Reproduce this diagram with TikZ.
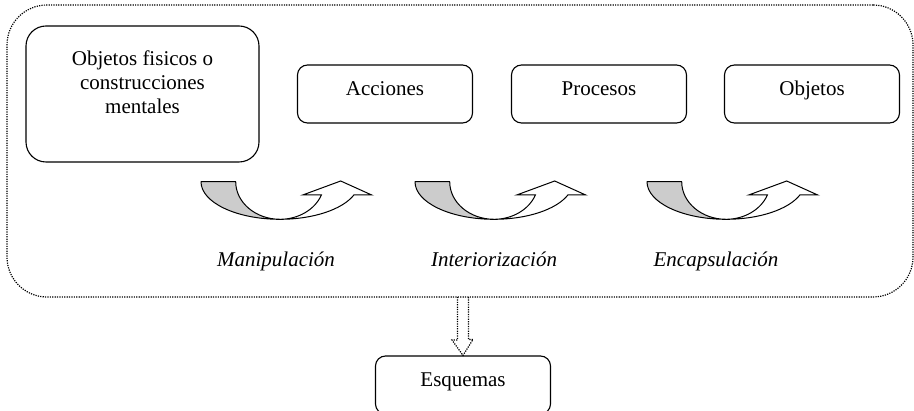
\documentclass[tikz,border=0pt]{standalone}
\usepackage{fontspec}
\setmainfont{Liberation Serif}
\usetikzlibrary{calc}
\definecolor{shade}{RGB}{204,204,204}
\begin{document}
\begin{tikzpicture}[x=1pt,y=-1pt,
  txt/.style={font=\fontsize{21}{24}\selectfont, inner sep=0pt},
  lbl/.style={font=\fontsize{21}{24}\selectfont\itshape, inner sep=0pt, anchor=base},
  stagebox/.style={draw, line width=1.1pt, rounded corners=10pt, minimum width=175pt,
    minimum height=58pt, inner sep=0pt, text height=14pt, text depth=10pt,
    font=\fontsize{21}{24}\selectfont},
  bigbox/.style={draw, line width=1.1pt, rounded corners=20pt, minimum width=233pt,
    minimum height=136pt, inner sep=0pt},
  framebox/.style={draw, line width=1.2pt, dash pattern=on 1.2pt off 1.2pt,
    rounded corners=40pt, minimum width=906pt, minimum height=292pt, inner sep=0pt},
  dotline/.style={line width=1.2pt, dash pattern=on 1.2pt off 1.2pt, line join=miter},
  pics/curvarrow/.style={code={
    \filldraw[fill=shade, line width=1pt, line join=round]
      (-79,0) arc[start angle=180, end angle=270, x radius=79pt, y radius=37.6pt]
      arc[start angle=270, end angle=180, x radius=44.3pt, y radius=37.6pt] -- cycle;
    \filldraw[fill=white, line width=1pt, line join=miter]
      (0,37.6) arc[start angle=270, end angle=339.3, x radius=79pt, y radius=37.6pt]
      -- (91.7,13.3) -- (60.7,-0.7) -- (22.7,13.3) -- (41.4,13.3)
      arc[start angle=339.3, end angle=270, x radius=44.3pt, y radius=37.6pt] -- cycle;
  }}]
\useasboundingbox (0,0) rectangle (914,411);
\node[framebox] (frame) at (460,151) {};
\node[bigbox] (fis) at (142.5,94) {};
\node[txt, align=center, anchor=north] (fistxt) at (142.5,50.5)
  {Objetos fisicos o\\construcciones\\mentales};
\node[stagebox] (acc) at (385,94) {Acciones};
\node[stagebox] (pro) at (599,94) {Procesos};
\node[stagebox] (obj) at (812,94) {Objetos};
\pic at (280,181.7) {curvarrow};
\pic at (494,181.7) {curvarrow};
\pic at (726,181.7) {curvarrow};
\node[lbl] (man) at (276,267) {Manipulación};
\node[lbl] (int) at (494,267) {Interiorización};
\node[lbl] (enc) at (716,267) {Encapsulación};
\node[stagebox] (esq) at (463,385) {Esquemas};
\coordinate (st) at (463,297);
\draw[dotline] ($(st)+(-5.5,0)$) -- ++(0,43) -- ++(-5.5,0) -- (esq.north)
  -- ++(10,-16) -- ++(-4.5,0) -- ++(0,-43);
\end{tikzpicture}
\end{document}
